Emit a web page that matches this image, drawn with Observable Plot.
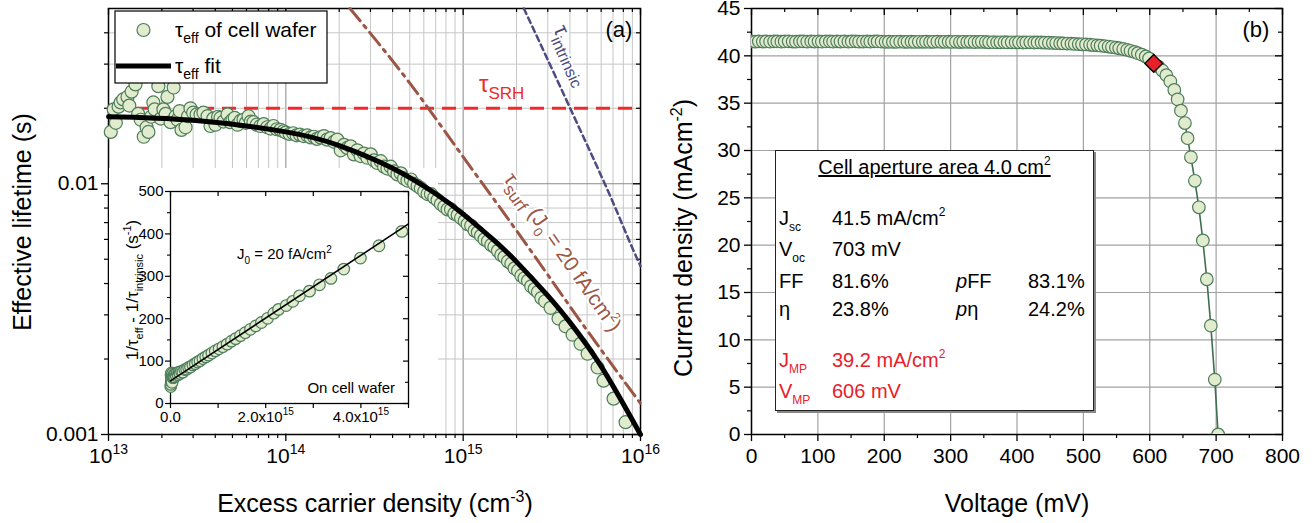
<!DOCTYPE html>
<html><head><meta charset="utf-8">
<script src="https://cdn.jsdelivr.net/npm/d3@7"></script>
<script src="https://cdn.jsdelivr.net/npm/@observablehq/plot@0.6"></script>
<style>
body{margin:0;background:#fff;font-family:"Liberation Sans",Arial,sans-serif}
#root{position:relative;width:1315px;height:523px;overflow:hidden;background:#fff}
#root svg{display:block}
.tbl{position:absolute;left:775px;top:150px;width:317px;height:259px;border:1px solid #222;background:#fff;box-shadow:2px 2px 0 #888;font-size:20px;color:#000}
.tbl span{position:absolute;white-space:nowrap;line-height:24px}
.tbl sub{font-size:12px;vertical-align:-6px;line-height:0}
.tbl sup{font-size:12px;vertical-align:9px;line-height:0}
.red{color:#e8202a}
</style></head><body><div id="root"></div>
<script>
// ---------------- Panel (a): lifetime data ----------------
const nScatter = [1.03e13,1.07e13,1.10e13,1.14e13,1.17e13,1.21e13,1.28e13,1.31e13,1.35e13,1.42e13,1.47e13,1.52e13,1.58e13,1.64e13,1.68e13,1.74e13,1.79e13,1.82e13,1.91e13,1.97e13,2.04e13,2.10e13,2.15e13,2.24e13,2.33e13,2.39e13,2.45e13,2.52e13,2.58e13,2.72e13,2.81e13,2.90e13,3.0e13,3.14e13,3.30e13,3.43e13,3.62e13,3.76e13,3.9e13,4.01e13,4.15e13,4.28e13,4.45e13,4.69e13,4.85e13,5.0e13,5.15e13,5.34e13,5.55e13,5.77e13,5.95e13,6.16e13,6.35e13,6.57e13,6.85e13,7.19e13,7.5e13,7.86e13,8.2e13,8.51e13,8.9e13,9.32e13,9.7e13,
 1.00e14,1.05e14,1.10e14,1.15e14,1.20e14,1.26e14,1.32e14,1.38e14,1.44e14,1.50e14,1.57e14,1.64e14,1.71e14,1.79e14,1.87e14,1.95e14,2.04e14,2.13e14,2.22e14,2.32e14,2.42e14,2.53e14,2.64e14,2.76e14,2.88e14,3.01e14,3.14e14,3.28e14,3.43e14,3.58e14,3.74e14,3.90e14,4.08e14,4.26e14,4.45e14,4.64e14,4.85e14,5.07e14,5.29e14,5.53e14,5.77e14,6.03e14,6.30e14,6.58e14,6.87e14,7.17e14,7.49e14,7.83e14,8.17e14,8.54e14,8.92e14,9.31e14,9.73e14,
 1.02e15,1.06e15,1.11e15,1.16e15,1.21e15,1.26e15,1.32e15,1.38e15,1.44e15,1.50e15,1.57e15,1.64e15,1.71e15,1.79e15,1.87e15,1.95e15,2.04e15,2.13e15,2.22e15,2.32e15,2.42e15,2.53e15,2.64e15,2.76e15,2.90e15,3.11e15,3.45e15,3.78e15,4.14e15,4.59e15,5.03e15,5.73e15,6.19e15,7.05e15,8.24e15];
const tauScatter = [0.0161,0.0198,0.0175,0.0203,0.0211,0.0217,0.0222,0.0205,0.0233,0.0249,0.0190,0.0180,0.0154,0.0168,0.0161,0.0185,0.0211,0.0198,0.0245,0.0182,0.0198,0.0190,0.0222,0.0176,0.0242,0.0186,0.0180,0.0195,0.0164,0.0168,0.0186,0.0200,0.0192,0.0189,0.0189,0.0192,0.0186,0.0170,0.0182,0.0172,0.0185,0.0183,0.0177,0.0189,0.0176,0.0180,0.0183,0.0172,0.0178,0.0180,0.0175,0.0186,0.0177,0.0176,0.0172,0.0170,0.0173,0.0168,0.0166,0.0170,0.0165,0.0164,0.0162,
 0.0160,0.0158,0.0159,0.0156,0.0157,0.0155,0.0156,0.0153,0.0154,0.0151,0.0153,0.0155,0.0150,0.0152,0.0147,0.0150,0.0136,0.0143,0.0139,0.0141,0.0131,0.0136,0.0129,0.0132,0.0127,0.0131,0.0124,0.0121,0.0123,0.0117,0.0115,0.0117,0.0112,0.0109,0.0110,0.0105,0.0103,0.0104,0.0100,0.0098,0.0096,0.0093,0.0091,0.0091,0.0088,0.0086,0.0083,0.0081,0.0079,0.0079,0.0076,0.0075,0.0073,
 0.0071,0.0069,0.0068,0.0065,0.0064,0.0062,0.0060,0.0059,0.0057,0.0056,0.0054,0.0052,0.0051,0.0049,0.0048,0.0046,0.0045,0.0043,0.0042,0.0041,0.0039,0.0038,0.0037,0.0035,0.0034,0.0032,0.0029,0.0027,0.0025,0.0023,0.0021,0.00185,0.00164,0.00139,0.00112];
const nFit = [1e13,3e13,1e14,2e14,4e14,7e14,1e15,1.5e15,2e15,3e15,4e15,6e15,1e16];
const tauFit = [0.0185,0.0179,0.0161,0.0142,0.01153,0.00912,0.00757,0.00593,0.00488,0.00358,0.0028,0.00187,0.0010];
const tauSRH = 0.02;
const nSurf = [2.3e14,5e14,1e15,2e15,5e15,1e16];
const tauSurf = [0.05,0.0252,0.0128,0.0065,0.0026,0.00133];
const nIntr = [2.2e15,4.04e15,6.78e15,9.64e15,1e16];
const tauIntr = [0.05,0.0198,0.00887,0.00497,0.0047];
// inset
const insetN = [0.005e15,0.01e15,0.01e15,0.015e15,0.02e15,0.02e15,0.025e15,0.03e15,0.035e15,0.04e15,0.05e15,0.06e15,0.07e15,0.08e15,0.09e15,0.1e15,0.12e15,0.14e15,0.16e15,0.18e15,0.2e15,0.23e15,0.26e15,0.3e15,0.34e15,0.38e15,0.42e15,0.47e15,0.52e15,0.57e15,0.62e15,0.68e15,0.74e15,0.8e15,0.87e15,0.94e15,1.02e15,1.1e15,1.19e15,1.28e15,1.37e15,1.47e15,1.57e15,1.68e15,1.79e15,1.91e15,2.04e15,2.17e15,2.27e15,2.43e15,2.57e15,2.71e15,2.92e15,3.13e15,3.37e15,3.64e15,3.99e15,4.38e15,4.86e15];
const insetY = [40,45,68,52,62,72,58,66,50,70,61,66,62,68,63,70,66,72,68,74,71,76,74,80,81,85,86,91,94,98,101,106,110,114,119,124,129,134,140,147,153,160,167,175,183,191,201,213,222,231,241,254,265,280,295,317,343,372,406];
const insetFitN = [0,5e15];
const insetFitY = [53.5,423.5];
const insetXTicks = [0,1e15,2e15,3e15,4e15,5e15];
const insetYTicks = [0,100,200,300,400,500];
const insetYMinor = [50,150,250,350,450];
// ---------------- Panel (b): J-V data ----------------
const vJV = [0,6,11,17,22,28,34,39,45,50,56,62,67,73,78,84,90,95,101,106,112,118,123,129,134,140,146,151,157,162,168,174,179,185,190,196,202,207,213,218,224,230,235,241,246,252,258,263,269,274,280,286,291,297,302,308,314,319,325,330,336,342,347,353,358,364,370,375,381,386,392,398,403,409,414,420,426,431,437,442,448,454,459,465,470,476,482,487,493,498,504,510,515,521,526,532,538,543,549,554,560,566,571,577,582,588,594,599,606,613,619,625,631,637,642,647,653,657,662,668,674,680,686,692,698,703];
const jJV = [41.52,41.5,41.53,41.51,41.52,41.5,41.53,41.52,41.5,41.52,41.53,41.51,41.5,41.52,41.53,41.5,41.52,41.51,41.53,41.5,41.52,41.52,41.5,41.53,41.51,41.52,41.5,41.52,41.53,41.5,41.51,41.52,41.5,41.53,41.52,41.5,
 41.48,41.49,41.47,41.48,41.5,41.47,41.48,41.49,41.47,41.48,41.48,41.49,41.47,41.48,41.5,41.47,41.48,41.49,41.47,41.48,41.46,41.48,41.47,41.48,41.46,41.47,41.48,41.46,
 41.43,41.44,41.42,41.43,41.44,41.42,41.43,41.42,41.43,41.41,41.42,41.43,41.41,41.42,41.41,41.4,
 41.38,41.36,41.35,41.33,41.31,41.3,41.28,41.26,41.24,41.22,
 41.2,41.17,41.14,41.11,41.07,41.03,40.98,40.93,40.87,40.8,40.72,40.63,40.53,40.41,40.28,40.12,39.93,39.72,
 39.2,38.85,38.45,37.95,37.3,36.4,35.4,34.2,32.9,31.3,29.3,26.8,24.0,20.5,16.4,11.5,5.8,0];
const vMP = 606, jMP = 39.2;
const vTicks = [0,100,200,300,400,500,600,700,800];
const vMinor = [50,150,250,350,450,550,650,750];
const jTicks = [0,5,10,15,20,25,30,35,40,45];
const jMinor = [2.5,7.5,12.5,17.5,22.5,27.5,32.5,37.5,42.5];
const tableTitle = "Cell aperture area 4.0 cm";
const tableRows = [
  ["J","sc","41.5 mA/cm<sup>2</sup>","",""],
  ["V","oc","703 mV","",""],
  ["FF","","81.6%","<i>p</i>FF","83.1%"],
  ["η","","23.8%","<i>p</i>η","24.2%"],
  ["J","MP","39.2 mA/cm<sup>2</sup>","",""],
  ["V","MP","606 mV","",""]
];

// ---------------- helpers ----------------
const FONT = "Liberation Sans, Arial, sans-serif";
const root = document.getElementById("root");
function place(node, left, top, extra = "") {
  const d = document.createElement("div");
  d.style.cssText = `position:absolute;left:${left}px;top:${top}px;${extra}`;
  d.appendChild(node); root.appendChild(d); return d;
}
function rich(sel, x, y, parts, o = {}) {
  const size = o.size || 21;
  const t = sel.append("text").attr("x", x).attr("y", y)
    .attr("text-anchor", o.anchor || "start").attr("fill", o.fill || "#000")
    .attr("font-size", size).attr("font-family", FONT).style("white-space", "pre");
  if (o.rotate) t.attr("transform", `rotate(${o.rotate},${x},${y})`);
  if (o.halo) t.attr("stroke", "#fff").attr("stroke-width", o.halo).attr("paint-order", "stroke").attr("stroke-linejoin", "round");
  let cur = 0;
  for (const p of parts) {
    const [s, kind, fs] = typeof p === "string" ? [p, "n"] : p;
    const sz = kind === "n" ? (fs || size) : (fs || Math.round(size * 0.65));
    const off = kind === "sub" ? size * 0.3 : kind === "sup" ? -size * 0.42 : 0;
    const ts = t.append("tspan").text(s);
    if (off !== cur) ts.attr("dy", off - cur);
    cur = off;
    if (sz !== size) ts.attr("font-size", sz);
  }
  return t;
}
function supify(svg, size) {
  d3.select(svg).selectAll("text").each(function () {
    const s = this.textContent;
    if (!s.includes("^")) return;
    const [b, e] = s.split("^");
    const t = d3.select(this); t.text("");
    t.append("tspan").text(b);
    t.append("tspan").text(e).attr("dy", -size * 0.45).attr("font-size", Math.round(size * 0.65));
  });
}
const isMajor = v => Math.abs(Math.log10(v) - Math.round(Math.log10(v))) < 1e-6;
const dotStyle = {fill: "#e1ebcd", stroke: "#4e7d5b", strokeWidth: 1.2};

// ---------------- Panel (a) back layer ----------------
const A = {width: 660, height: 523, marginLeft: 108, marginRight: 20, marginTop: 8, marginBottom: 89};
const aInnerW = A.width - A.marginLeft - A.marginRight, aInnerH = A.height - A.marginTop - A.marginBottom;
const xTicksA = d3.scaleLog().domain([1e13, 1e16]).ticks();
const yTicksA = d3.scaleLog().domain([0.001, 0.05]).ticks().filter(d => d < 0.049);
const xMajA = xTicksA.filter(isMajor), xMinA = xTicksA.filter(d => !isMajor(d));
const yMajA = yTicksA.filter(isMajor), yMinA = yTicksA.filter(d => !isMajor(d));
const styleBase = {fontFamily: FONT, fontSize: "21px", color: "#000", background: "transparent", overflow: "visible"};
const backA = Plot.plot({
  ...A, style: styleBase,
  x: {type: "log", domain: [1e13, 1e16]}, y: {type: "log", domain: [0.001, 0.05]},
  marks: [
    Plot.ruleX(xMinA, {stroke: "#c6c6c6", strokeWidth: 1}),
    Plot.ruleX(xMajA, {stroke: "#8a8a8a", strokeWidth: 1}),
    Plot.ruleY(yMinA, {stroke: "#c6c6c6", strokeWidth: 1}),
    Plot.ruleY(yMajA, {stroke: "#8a8a8a", strokeWidth: 1}),
    Plot.axisX({ticks: xMajA, tickSize: 7, tickPadding: 7, tickFormat: d => "10^" + Math.round(Math.log10(d)), label: null, strokeWidth: 1.3}),
    Plot.axisX({ticks: xMinA, tickSize: 4, tickFormat: () => "", label: null, strokeWidth: 1.2}),
    Plot.axisY({ticks: yMajA, tickSize: 7, tickPadding: 3, tickFormat: d => String(d), label: null, strokeWidth: 1.3}),
    Plot.axisY({ticks: yMinA, tickSize: 4, tickFormat: () => "", label: null, strokeWidth: 1.2}),
    Plot.ruleX(xMajA, {insetBottom: aInnerH - 7, strokeWidth: 1.3}),
    Plot.ruleX(xMinA, {insetBottom: aInnerH - 4, strokeWidth: 1.2}),
    Plot.ruleY(yMajA, {insetLeft: aInnerW - 7, strokeWidth: 1.3}),
    Plot.ruleY(yMinA, {insetLeft: aInnerW - 4, strokeWidth: 1.2}),
    Plot.frame({stroke: "#000", strokeWidth: 1.5})
  ]
});
supify(backA, 21);
const gA = d3.select(backA);
rich(gA, 31, 222, ["Effective lifetime (s)"], {size: 25, anchor: "middle", rotate: -90});
rich(gA, 375, 512, ["Excess carrier density (cm", ["-3", "sup", 16], ")"], {size: 25, anchor: "middle"});
place(backA, 0, 0);

// ---------------- Inset ----------------
const I = {width: 329, height: 265, marginLeft: 61, marginRight: 30, marginTop: 23, marginBottom: 30};
const iInnerW = I.width - I.marginLeft - I.marginRight, iInnerH = I.height - I.marginTop - I.marginBottom;
const inset = Plot.plot({
  ...I, style: {...styleBase, fontSize: "15px", background: "#fff"},
  x: {domain: [0, 5e15]}, y: {domain: [0, 500]},
  marks: [
    Plot.axisX({ticks: insetXTicks, tickSize: 5, tickPadding: 3, label: null, strokeWidth: 1.2,
      tickFormat: d => d === 0 ? "0.0" : (Math.round(d / 1e15) % 2 === 0 ? (d / 1e15).toFixed(1) + "x10^15" : "")}),
    Plot.axisY({ticks: insetYTicks, tickSize: 5, tickPadding: 2, label: null, strokeWidth: 1.2}),
    Plot.axisY({ticks: insetYMinor, tickSize: 3, tickFormat: () => "", label: null, strokeWidth: 1.1}),
    Plot.ruleX(insetXTicks, {insetBottom: iInnerH - 5, strokeWidth: 1.2}),
    Plot.ruleY(insetYTicks, {insetLeft: iInnerW - 5, strokeWidth: 1.2}),
    Plot.ruleY(insetYMinor, {insetLeft: iInnerW - 3, strokeWidth: 1.1}),
    Plot.frame({stroke: "#000", strokeWidth: 1.3}),
    Plot.dot(insetN.map((n, i) => ({n, y: insetY[i]})), {x: "n", y: "y", r: 5.8, ...dotStyle}),
    Plot.line(insetFitN.map((n, i) => ({n, y: insetFitY[i]})), {x: "n", y: "y", stroke: "#000", strokeWidth: 1.6})
  ]
});
supify(inset, 15);
const gI = d3.select(inset);
rich(gI, 29, 122, ["1/τ", ["eff", "sub", 11], " - 1/τ", ["intrinsic", "sub", 11], " (s", ["-1", "sup", 11], ")"], {size: 17, anchor: "middle", rotate: -90});
rich(gI, 128, 91, ["J", ["0", "sub", 10], " = 20 fA/cm", ["2", "sup", 10]], {size: 15});
rich(gI, 286, 225, ["On cell wafer"], {size: 15, anchor: "end"});
place(inset, 109, 168);

// ---------------- Panel (a) front layer ----------------
const frontA = Plot.plot({
  ...A, style: styleBase,
  x: {type: "log", domain: [1e13, 1e16], axis: null}, y: {type: "log", domain: [0.001, 0.05], axis: null},
  marks: [
    Plot.ruleY([tauSRH], {stroke: "#ee2a2a", strokeWidth: 3, strokeDasharray: "14,8", insetLeft: 4}),
    Plot.line(nSurf.map((n, i) => ({n, t: tauSurf[i]})), {x: "n", y: "t", stroke: "#9b5646", strokeWidth: 3, strokeDasharray: "16,6,3,6", curve: "monotone-x"}),
    Plot.line(nIntr.map((n, i) => ({n, t: tauIntr[i]})), {x: "n", y: "t", stroke: "#4d4b7f", strokeWidth: 2.5, strokeDasharray: "6,4", curve: "monotone-x"}),
    Plot.dot(nScatter.map((n, i) => ({n, t: tauScatter[i]})), {x: "n", y: "t", r: 6.5, ...dotStyle}),
    Plot.line(nFit.map((n, i) => ({n, t: tauFit[i]})), {x: "n", y: "t", stroke: "#000", strokeWidth: 5, curve: "natural"})
  ]
});
const fA = d3.select(frontA);
rich(fA, 479, 92, ["τ", ["SRH", "sub", 17]], {size: 24, fill: "#ee2a2a"});
rich(fA, 553, 29, ["τ", ["intrinsic", "sub", 16]], {size: 22, fill: "#4d4b7f", rotate: 66, halo: 4});
rich(fA, 503, 179, ["τ", ["surf", "sub", 17], " (J", ["0", "sub", 13], " = 20 fA/cm", ["2", "sup", 13], ")"], {size: 21, fill: "#9b5646", rotate: 55, halo: 4});
rich(fA, 619, 37, ["(a)"], {size: 22, anchor: "middle"});
// legend
const lg = fA.append("g");
lg.append("rect").attr("x", 115).attr("y", 11).attr("width", 212).attr("height", 72).attr("fill", "#fff").attr("stroke", "#000").attr("stroke-width", 1.2);
lg.append("circle").attr("cx", 143.5).attr("cy", 30).attr("r", 6.5).attr("fill", dotStyle.fill).attr("stroke", dotStyle.stroke).attr("stroke-width", 1.2);
rich(lg, 175, 37, ["τ", ["eff", "sub", 14], " of cell wafer"], {size: 21});
lg.append("line").attr("x1", 116).attr("x2", 171).attr("y1", 66).attr("y2", 66).attr("stroke", "#000").attr("stroke-width", 5);
rich(lg, 175, 73, ["τ", ["eff", "sub", 14], " fit"], {size: 21});
place(frontA, 0, 0, "pointer-events:none;");

// ---------------- Panel (b) ----------------
const B = {width: 655, height: 523, marginLeft: 91, marginRight: 33, marginTop: 8, marginBottom: 89};
const bInnerW = B.width - B.marginLeft - B.marginRight, bInnerH = B.height - B.marginTop - B.marginBottom;
const jv = vJV.map((v, i) => ({v, j: jJV[i]}));
const panelB = Plot.plot({
  ...B, style: styleBase,
  x: {domain: [0, 800]}, y: {domain: [0, 45]},
  marks: [
    Plot.ruleX(vTicks, {stroke: "#a2a2a2", strokeWidth: 1.2}),
    Plot.ruleY(jTicks, {stroke: "#a2a2a2", strokeWidth: 1.2}),
    Plot.axisX({ticks: vTicks, tickSize: 7, tickPadding: 7, label: null, strokeWidth: 1.3}),
    Plot.axisX({ticks: vMinor, tickSize: 4, tickFormat: () => "", label: null, strokeWidth: 1.2}),
    Plot.axisY({ticks: jTicks, tickSize: 7, tickPadding: 4, label: null, strokeWidth: 1.3}),
    Plot.axisY({ticks: jMinor, tickSize: 4, tickFormat: () => "", label: null, strokeWidth: 1.2}),
    Plot.ruleX(vTicks, {insetBottom: bInnerH - 7, strokeWidth: 1.3}),
    Plot.ruleX(vMinor, {insetBottom: bInnerH - 4, strokeWidth: 1.2}),
    Plot.ruleY(jTicks, {insetLeft: bInnerW - 7, strokeWidth: 1.3}),
    Plot.ruleY(jMinor, {insetLeft: bInnerW - 4, strokeWidth: 1.2}),
    Plot.frame({stroke: "#000", strokeWidth: 1.5}),
    Plot.line(jv, {x: "v", y: "j", stroke: "#3f6e50", strokeWidth: 1.6, clip: true}),
    Plot.dot(jv, {x: "v", y: "j", r: 6.3, ...dotStyle, clip: true}),
    Plot.dot([{v: vMP, j: jMP}], {x: "v", y: "j", symbol: "diamond2", r: 8, fill: "#e8202a", stroke: "#000", strokeWidth: 1.3})
  ]
});
const gB = d3.select(panelB);
rich(gB, 32, 238, ["Current density (mAcm", ["-2", "sup", 16], ")"], {size: 25, anchor: "middle", rotate: -90});
rich(gB, 357, 512, ["Voltage (mV)"], {size: 25, anchor: "middle"});
rich(gB, 596, 37, ["(b)"], {size: 22, anchor: "middle"});
place(panelB, 660, 0);

// table box
const tbl = document.createElement("div");
tbl.className = "tbl";
let html = `<span style="left:0;width:317px;text-align:center;top:4px"><u>${tableTitle}<sup>2</sup></u></span>`;
const rowY = [55, 86, 118, 146, 197, 228];
tableRows.forEach((r, i) => {
  const cls = i >= 4 ? "red" : "";
  html += `<span class="${cls}" style="left:3px;top:${rowY[i]}px">${r[0]}${r[1] ? `<sub>${r[1]}</sub>` : ""}</span>`;
  html += `<span class="${cls}" style="left:56px;top:${rowY[i]}px">${r[2]}</span>`;
  if (r[3]) html += `<span style="left:180px;top:${rowY[i]}px">${r[3]}</span><span style="left:252px;top:${rowY[i]}px">${r[4]}</span>`;
});
tbl.innerHTML = html;
root.appendChild(tbl);
</script>
</body></html>
